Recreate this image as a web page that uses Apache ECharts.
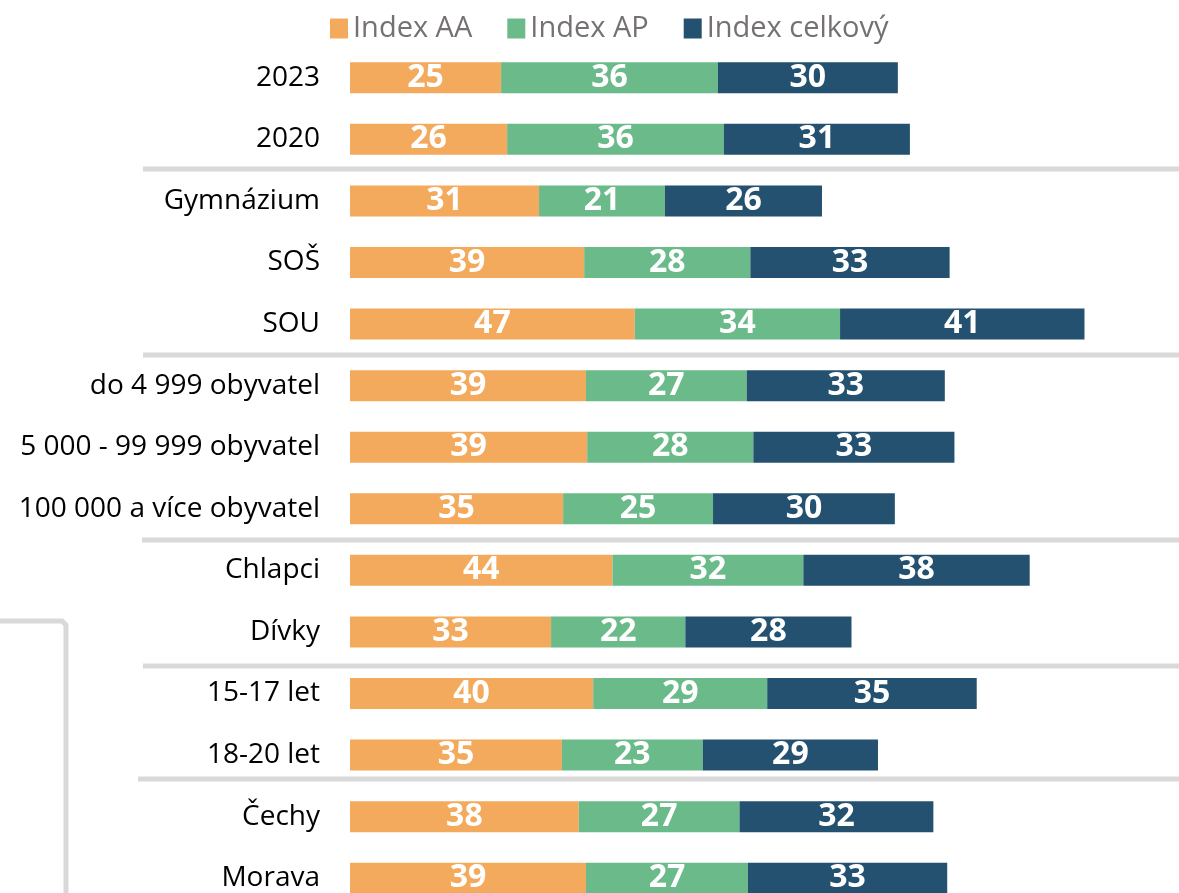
<!DOCTYPE html>
<html>
<head>
<meta charset="utf-8">
<script src="https://cdn.jsdelivr.net/npm/echarts@6/dist/echarts.min.js"></script>
<style>
  html, body { margin: 0; padding: 0; background: #fff; overflow: hidden; }
  #chart { width: 1179px; height: 912px; }
</style>
</head>
<body>
<div id="chart"></div>
<script>
const categories = [
  '2023', '2020', 'Gymnázium', 'SOŠ', 'SOU',
  'do 4 999 obyvatel', '5 000 - 99 999 obyvatel', '100 000 a více obyvatel',
  'Chlapci', 'Dívky', '15-17 let', '18-20 let', 'Čechy', 'Morava'
];
const seriesNames = ['Index AA', 'Index AP', 'Index celkový'];
const indexAA = [25.1, 26.1, 31.4, 38.9, 47.3, 39.2, 39.4, 35.4, 43.6, 33.4, 40.4, 35.2, 38.0, 39.2];
const indexAP = [36.0, 36.0, 20.9, 27.6, 34.1, 26.7, 27.6, 24.9, 31.7, 22.3, 28.9, 23.4, 26.7, 26.9];
const indexCelkovy = [29.9, 30.9, 26.1, 33.1, 40.6, 32.9, 33.4, 30.2, 37.6, 27.6, 34.8, 29.1, 32.2, 33.1];
const colors = ['#F3AA5D', '#6ABA8A', '#24516F'];

const font = '"Open Sans", "Noto Sans", sans-serif';
const chart = echarts.init(document.getElementById('chart'));

const makeSeries = (name, data, color) => ({
  name,
  type: 'bar',
  stack: 'total',
  barWidth: 31,
  data,
  itemStyle: { color },
  emphasis: { disabled: true },
  label: {
    show: true,
    position: 'inside',
    color: '#fff',
    fontFamily: font,
    fontWeight: 'bold',
    fontSize: 32,
    formatter: (p) => String(Math.round(p.value)),
  },
});

// oddělovací čáry mezi skupinami
const sep = (x, y) => ({
  type: 'line',
  silent: true,
  shape: { x1: x, y1: y, x2: 1179, y2: y },
  style: { stroke: '#d9d9d9', lineWidth: 5 },
});

const option = {
  animation: false,
  color: colors,
  legend: {
    data: seriesNames,
    left: 330,
    top: 14,
    padding: 0,
    itemWidth: 18,
    itemHeight: 20,
    itemGap: 35,
    icon: 'rect',
    selectedMode: false,
    textStyle: { color: '#767171', fontSize: 29, fontFamily: font },
  },
  grid: { left: 350, right: 0, top: 47, height: 862 },
  xAxis: { type: 'value', min: 0, max: 137.7, show: false },
  yAxis: {
    type: 'category',
    data: categories,
    inverse: true,
    axisLine: { show: false },
    axisTick: { show: false },
    axisLabel: { color: '#000', fontSize: 28, fontFamily: font, margin: 30 },
  },
  series: [
    makeSeries(seriesNames[0], indexAA, colors[0]),
    makeSeries(seriesNames[1], indexAP, colors[1]),
    makeSeries(seriesNames[2], indexCelkovy, colors[2]),
  ],
  graphic: [
    sep(143, 169),
    sep(143, 355),
    sep(142, 540),
    sep(143, 666),
    sep(138, 779),
    {
      type: 'polyline',
      silent: true,
      shape: { points: [[0, 621], [62, 621], [66, 625], [66, 912]] },
      style: { stroke: '#d9d9d9', lineWidth: 5, fill: null },
    },
  ],
};

chart.setOption(option);
</script>
</body>
</html>
